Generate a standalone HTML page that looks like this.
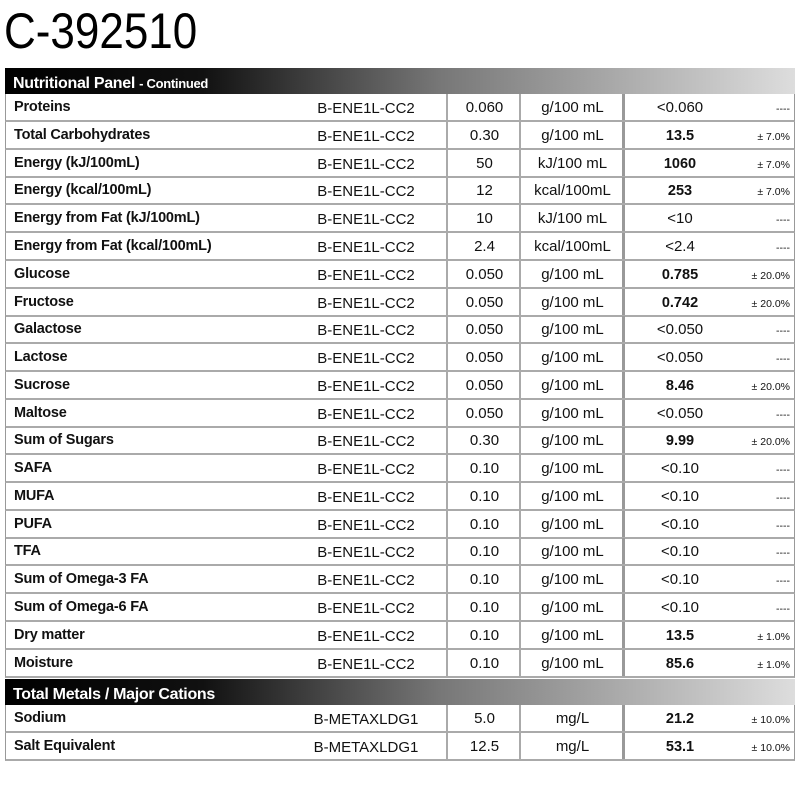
<!DOCTYPE html>
<html><head><meta charset="utf-8"><style>
body{margin:0;width:800px;height:800px;background:#fff;position:relative;overflow:hidden;font-family:"Liberation Sans",sans-serif;color:#111}
.title{position:absolute;left:4px;top:3px;font-size:50px;line-height:56px;font-family:"Liberation Sans",sans-serif;transform:scaleX(0.88);transform-origin:left top;color:#000}
.hdr{position:absolute;left:5px;width:790px;height:26px;background:linear-gradient(90deg,#000 0%,#111 25%,#777 55%,#ddd 100%);color:#fff;font-weight:bold;font-size:16px;line-height:31px;box-sizing:border-box;padding-left:8px;letter-spacing:-0.3px}
.hdr small{font-size:13px}
.row{position:absolute;left:5px;width:790px;height:28px;box-sizing:border-box;border-left:1px solid #999;border-right:1px solid #999;border-bottom:2px solid #aaa;font-size:15px;line-height:28px}
.row div{position:absolute;top:0;height:26px;white-space:nowrap}
.n{left:8px;font-weight:bold;font-size:14.5px;line-height:27px;letter-spacing:-0.2px}
.c{left:300px;width:120px;text-align:center;line-height:30px}
.l{left:440px;width:73px;text-align:center;border-left:2px solid #aaa}
.u{left:513px;width:103px;text-align:center;border-left:2px solid #aaa}
.r{left:616px;width:110px;text-align:center;border-left:3px solid #999}
.r.b{font-weight:bold;font-size:14.5px;line-height:29px}
.p{left:730px;width:54px;text-align:right;font-size:10.5px;line-height:30px}
</style></head><body>
<div class="title">C-392510</div>
<div class="hdr" style="top:68px">Nutritional Panel <small>- Continued</small></div>

<div class="row" style="top:94px"><div class="n">Proteins</div><div class="c">B-ENE1L-CC2</div><div class="l">0.060</div><div class="u">g/100 mL</div><div class="r">&lt;0.060</div><div class="p">----</div></div>
<div class="row" style="top:122px"><div class="n">Total Carbohydrates</div><div class="c">B-ENE1L-CC2</div><div class="l">0.30</div><div class="u">g/100 mL</div><div class="r b">13.5</div><div class="p">± 7.0%</div></div>
<div class="row" style="top:150px"><div class="n">Energy (kJ/100mL)</div><div class="c">B-ENE1L-CC2</div><div class="l">50</div><div class="u">kJ/100 mL</div><div class="r b">1060</div><div class="p">± 7.0%</div></div>
<div class="row" style="top:177px"><div class="n">Energy (kcal/100mL)</div><div class="c">B-ENE1L-CC2</div><div class="l">12</div><div class="u">kcal/100mL</div><div class="r b">253</div><div class="p">± 7.0%</div></div>
<div class="row" style="top:205px"><div class="n">Energy from Fat (kJ/100mL)</div><div class="c">B-ENE1L-CC2</div><div class="l">10</div><div class="u">kJ/100 mL</div><div class="r">&lt;10</div><div class="p">----</div></div>
<div class="row" style="top:233px"><div class="n">Energy from Fat (kcal/100mL)</div><div class="c">B-ENE1L-CC2</div><div class="l">2.4</div><div class="u">kcal/100mL</div><div class="r">&lt;2.4</div><div class="p">----</div></div>
<div class="row" style="top:261px"><div class="n">Glucose</div><div class="c">B-ENE1L-CC2</div><div class="l">0.050</div><div class="u">g/100 mL</div><div class="r b">0.785</div><div class="p">± 20.0%</div></div>
<div class="row" style="top:289px"><div class="n">Fructose</div><div class="c">B-ENE1L-CC2</div><div class="l">0.050</div><div class="u">g/100 mL</div><div class="r b">0.742</div><div class="p">± 20.0%</div></div>
<div class="row" style="top:316px"><div class="n">Galactose</div><div class="c">B-ENE1L-CC2</div><div class="l">0.050</div><div class="u">g/100 mL</div><div class="r">&lt;0.050</div><div class="p">----</div></div>
<div class="row" style="top:344px"><div class="n">Lactose</div><div class="c">B-ENE1L-CC2</div><div class="l">0.050</div><div class="u">g/100 mL</div><div class="r">&lt;0.050</div><div class="p">----</div></div>
<div class="row" style="top:372px"><div class="n">Sucrose</div><div class="c">B-ENE1L-CC2</div><div class="l">0.050</div><div class="u">g/100 mL</div><div class="r b">8.46</div><div class="p">± 20.0%</div></div>
<div class="row" style="top:400px"><div class="n">Maltose</div><div class="c">B-ENE1L-CC2</div><div class="l">0.050</div><div class="u">g/100 mL</div><div class="r">&lt;0.050</div><div class="p">----</div></div>
<div class="row" style="top:427px"><div class="n">Sum of Sugars</div><div class="c">B-ENE1L-CC2</div><div class="l">0.30</div><div class="u">g/100 mL</div><div class="r b">9.99</div><div class="p">± 20.0%</div></div>
<div class="row" style="top:455px"><div class="n">SAFA</div><div class="c">B-ENE1L-CC2</div><div class="l">0.10</div><div class="u">g/100 mL</div><div class="r">&lt;0.10</div><div class="p">----</div></div>
<div class="row" style="top:483px"><div class="n">MUFA</div><div class="c">B-ENE1L-CC2</div><div class="l">0.10</div><div class="u">g/100 mL</div><div class="r">&lt;0.10</div><div class="p">----</div></div>
<div class="row" style="top:511px"><div class="n">PUFA</div><div class="c">B-ENE1L-CC2</div><div class="l">0.10</div><div class="u">g/100 mL</div><div class="r">&lt;0.10</div><div class="p">----</div></div>
<div class="row" style="top:538px"><div class="n">TFA</div><div class="c">B-ENE1L-CC2</div><div class="l">0.10</div><div class="u">g/100 mL</div><div class="r">&lt;0.10</div><div class="p">----</div></div>
<div class="row" style="top:566px"><div class="n">Sum of Omega-3 FA</div><div class="c">B-ENE1L-CC2</div><div class="l">0.10</div><div class="u">g/100 mL</div><div class="r">&lt;0.10</div><div class="p">----</div></div>
<div class="row" style="top:594px"><div class="n">Sum of Omega-6 FA</div><div class="c">B-ENE1L-CC2</div><div class="l">0.10</div><div class="u">g/100 mL</div><div class="r">&lt;0.10</div><div class="p">----</div></div>
<div class="row" style="top:622px"><div class="n">Dry matter</div><div class="c">B-ENE1L-CC2</div><div class="l">0.10</div><div class="u">g/100 mL</div><div class="r b">13.5</div><div class="p">± 1.0%</div></div>
<div class="row" style="top:650px"><div class="n">Moisture</div><div class="c">B-ENE1L-CC2</div><div class="l">0.10</div><div class="u">g/100 mL</div><div class="r b">85.6</div><div class="p">± 1.0%</div></div>

<div class="hdr" style="top:679px">Total Metals / Major Cations</div>
<div class="row" style="top:705px"><div class="n">Sodium</div><div class="c">B-METAXLDG1</div><div class="l">5.0</div><div class="u">mg/L</div><div class="r b">21.2</div><div class="p">± 10.0%</div></div>
<div class="row" style="top:733px"><div class="n">Salt Equivalent</div><div class="c">B-METAXLDG1</div><div class="l">12.5</div><div class="u">mg/L</div><div class="r b">53.1</div><div class="p">± 10.0%</div></div>
</body></html>
